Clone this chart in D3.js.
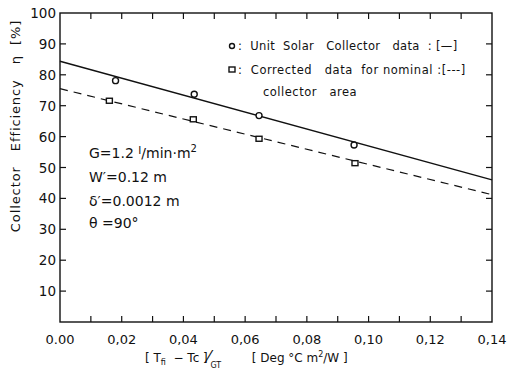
<!DOCTYPE html>
<html>
<head>
<meta charset="utf-8">
<script src="https://cdn.jsdelivr.net/npm/d3@7"></script>
<style>
  html, body { margin: 0; padding: 0; background: #fff; }
  svg { display: block; }
  text { font-family: "DejaVu Sans", sans-serif; fill: #111; }
</style>
</head>
<body>
<svg id="chart" width="507" height="375"></svg>
<script>
// Measured collector efficiency vs. reduced temperature difference
const unitX = [0.018, 0.0435, 0.0645, 0.0953];
const unitY = [78.1, 73.7, 66.8, 57.3];
const corrX = [0.016, 0.0432, 0.0645, 0.0956];
const corrY = [71.6, 65.6, 59.3, 51.4];

// Fitted straight lines (endpoints at x = 0 and x = 0.14)
const unitFitX = [0.0, 0.14];
const unitFitY = [84.4, 46.0];
const corrFitX = [0.0, 0.14];
const corrFitY = [75.5, 41.2];

const xTickValues = [0, 0.02, 0.04, 0.06, 0.08, 0.10, 0.12, 0.14];
const xTickLabels = ["0.00", "0,02", "0,04", "0,06", "0,08", "0,10", "0,12", "0,14"];
const xMinorTicks = d3.range(0, 15).map(i => i * 0.01);
const yTickValues = [0, 10, 20, 30, 40, 50, 60, 70, 80, 90, 100];
const yTickLabels = ["", "10", "20", "30", "40", "50", "60", "70", "80", "90", "100"];

const svg = d3.select("#chart");
const L = 60, R = 492, T = 13, B = 322;

const x = d3.scaleLinear().domain([0, 0.14]).range([L, R]);
const y = d3.scaleLinear().domain([0, 100]).range([B, T]);

// frame
svg.append("rect")
  .attr("x", L).attr("y", T).attr("width", R - L).attr("height", B - T)
  .attr("fill", "none").attr("stroke", "#111").attr("stroke-width", 1.4);

// inward ticks on all four sides
const tickLen = 6;
const g = svg.append("g").attr("stroke", "#111").attr("stroke-width", 1.2);
xMinorTicks.slice(1, -1).forEach(v => {
  g.append("line").attr("x1", x(v)).attr("x2", x(v)).attr("y1", B).attr("y2", B - tickLen);
  g.append("line").attr("x1", x(v)).attr("x2", x(v)).attr("y1", T).attr("y2", T + tickLen);
});
yTickValues.slice(1, -1).forEach(v => {
  g.append("line").attr("x1", L).attr("x2", L + tickLen).attr("y1", y(v)).attr("y2", y(v));
  g.append("line").attr("x1", R).attr("x2", R - tickLen).attr("y1", y(v)).attr("y2", y(v));
});

// tick labels
svg.append("g").selectAll("text").data(xTickValues).join("text")
  .attr("x", d => x(d)).attr("y", 344)
  .attr("text-anchor", "middle").attr("font-size", 13)
  .text((d, i) => xTickLabels[i]);
svg.append("g").selectAll("text").data(yTickValues).join("text")
  .attr("x", 56).attr("y", d => y(d) + 5)
  .attr("text-anchor", "end").attr("font-size", 13.5)
  .text((d, i) => yTickLabels[i]);

// fitted lines
const line = d3.line().x(d => x(d[0])).y(d => y(d[1]));
svg.append("path").datum(d3.zip(unitFitX, unitFitY))
  .attr("d", line).attr("fill", "none").attr("stroke", "#111").attr("stroke-width", 1.4);
svg.append("path").datum(d3.zip(corrFitX, corrFitY))
  .attr("d", line).attr("fill", "none").attr("stroke", "#111").attr("stroke-width", 1.2)
  .attr("stroke-dasharray", "8,6");

// data markers
svg.append("g").selectAll("circle").data(d3.zip(unitX, unitY)).join("circle")
  .attr("cx", d => x(d[0])).attr("cy", d => y(d[1])).attr("r", 3)
  .attr("fill", "#fff").attr("stroke", "#111").attr("stroke-width", 1.4);
svg.append("g").selectAll("rect").data(d3.zip(corrX, corrY)).join("rect")
  .attr("x", d => x(d[0]) - 3).attr("y", d => y(d[1]) - 2.5).attr("width", 6).attr("height", 5)
  .attr("fill", "#fff").attr("stroke", "#111").attr("stroke-width", 1.4);

// legend
svg.append("circle").attr("cx", 232).attr("cy", 46).attr("r", 2.5)
  .attr("fill", "#fff").attr("stroke", "#111").attr("stroke-width", 1.4);
svg.append("text").attr("x", 238).attr("y", 50).attr("font-size", 11.5)
  .attr("letter-spacing", 0.35).attr("xml:space", "preserve")
  .text(":  Unit  Solar   Collector   data  : [\u2014]");
svg.append("rect").attr("x", 229).attr("y", 67).attr("width", 6).attr("height", 5)
  .attr("fill", "#fff").attr("stroke", "#111").attr("stroke-width", 1.4);
svg.append("text").attr("x", 238).attr("y", 74).attr("font-size", 11.5)
  .attr("letter-spacing", 0.55).attr("xml:space", "preserve")
  .text(":  Corrected   data  for nominal :[---]");
svg.append("text").attr("x", 263).attr("y", 96).attr("font-size", 11.5)
  .attr("letter-spacing", 0.5).attr("xml:space", "preserve")
  .text("collector   area");

// operating conditions
const cond = svg.append("g").attr("font-size", 14);
const t1 = cond.append("text").attr("x", 89).attr("y", 158);
t1.append("tspan").text("G=1.2 ");
t1.append("tspan").attr("font-size", 11).attr("dy", -4).text("l");
t1.append("tspan").attr("dy", 4).text("/min\u00B7m");
t1.append("tspan").attr("font-size", 10).attr("dy", -6).text("2");
cond.append("text").attr("x", 89).attr("y", 182).text("W\u2032=0.12 m");
cond.append("text").attr("x", 89).attr("y", 206).text("\u03B4\u2032=0.0012 m");
cond.append("text").attr("x", 89).attr("y", 228).text("\u03B8 =90\u00B0");

// y-axis title
svg.append("text")
  .attr("transform", "translate(20,126) rotate(-90)")
  .attr("text-anchor", "middle").attr("font-size", 13).attr("letter-spacing", 0.9)
  .attr("xml:space", "preserve")
  .text("Collector   Efficiency   \u03B7  [%]");

// x-axis title
const xt = svg.append("text").attr("x", 145).attr("y", 362).attr("font-size", 12)
  .attr("xml:space", "preserve");
xt.append("tspan").text("[ T");
xt.append("tspan").attr("font-size", 8).attr("dy", 3).text("fi");
xt.append("tspan").attr("dy", -3).text("  \u2212 Tc ]");
xt.append("tspan").attr("font-size", 16).text("\u2044");
xt.append("tspan").attr("font-size", 8).attr("dy", 6).text("GT");
xt.append("tspan").attr("dy", -6).text("        [ Deg \u00B0C m");
xt.append("tspan").attr("font-size", 8).attr("dy", -5).text("2");
xt.append("tspan").attr("dy", 5).text("/W ]");
</script>
</body>
</html>
